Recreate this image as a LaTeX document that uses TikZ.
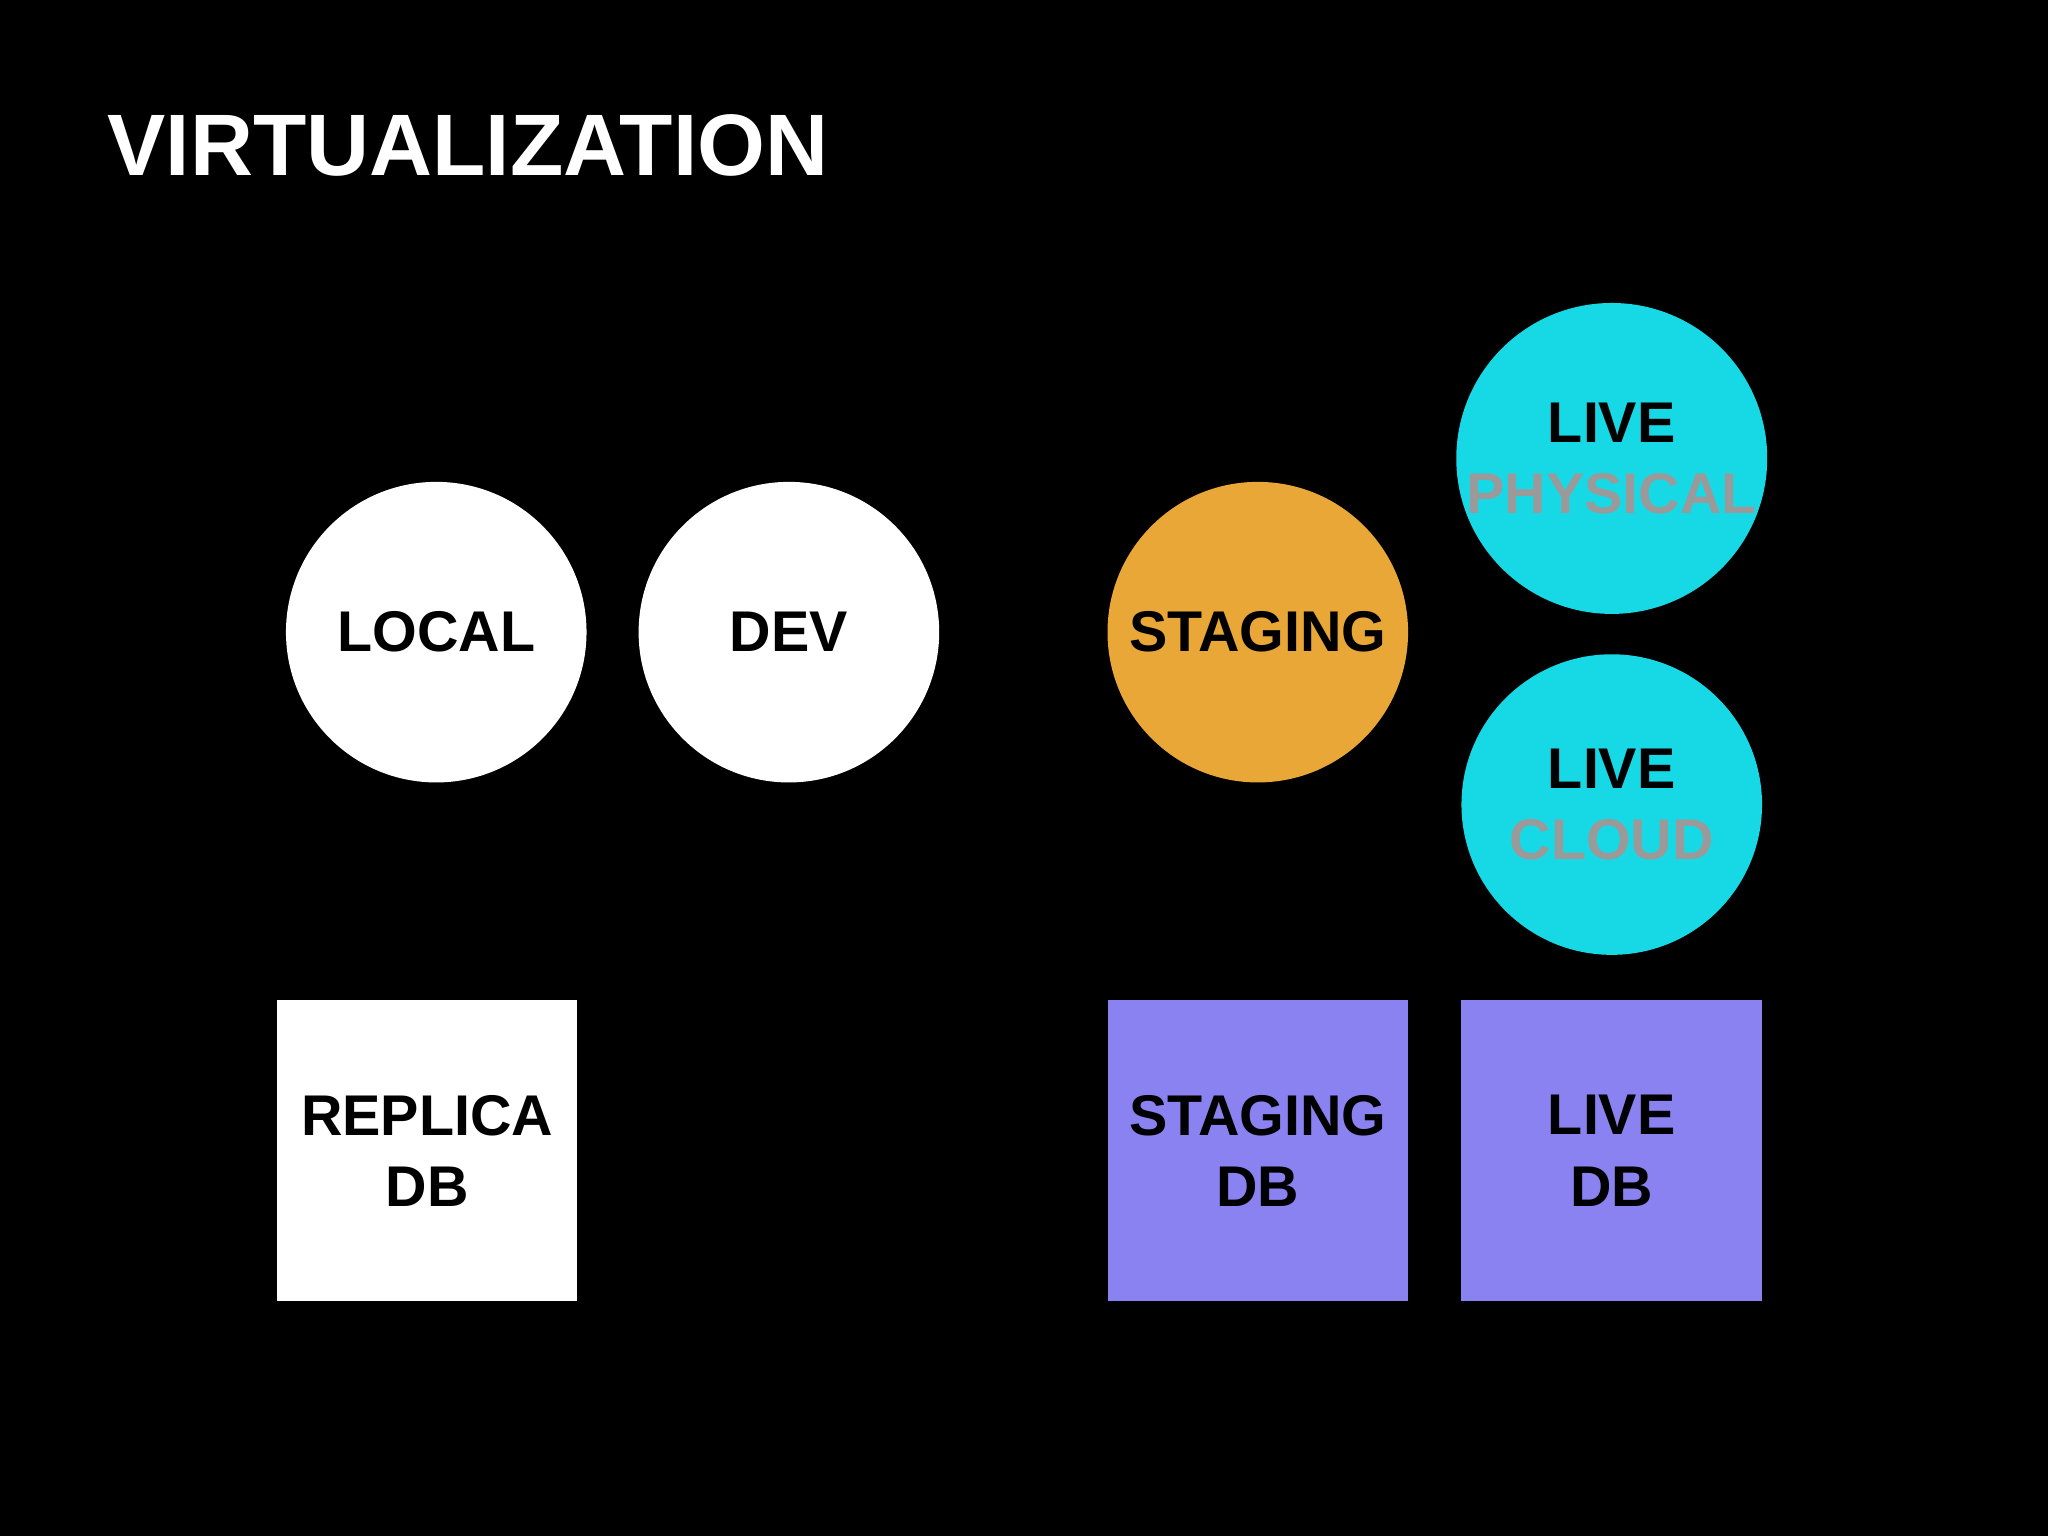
\documentclass[tikz,border=0pt]{standalone}
\usepackage{fontspec}
\setmainfont{Liberation Sans}
\definecolor{stagecol}{HTML}{E8A736}
\definecolor{livecol}{HTML}{17D9E6}
\definecolor{dbcol}{HTML}{8A82F0}
\definecolor{subcol}{HTML}{9A9A9A}
\tikzset{
  env/.style={circle, minimum size=2.3cm, inner sep=0pt, align=center,
    font=\fontsize{12.5}{15.5}\selectfont\bfseries},
  db/.style={rectangle, minimum size=2.3cm, inner sep=0pt, align=center,
    font=\fontsize{12.5}{15.5}\selectfont\bfseries}
}
\begin{document}
\begin{tikzpicture}[x=0.01cm, y=-0.01cm]
  \fill[black] (0,0) rectangle (1568,1176);
  \node[anchor=base west, white, font=\fontsize{19}{22}\selectfont\bfseries] (title) at (70,134) {VIRTUALIZATION};
  % circles
  \node[env, fill=white] (local) at (334,484) {LOCAL};
  \node[env, fill=white] (dev) at (604,484) {DEV};
  \node[env, fill=stagecol] (staging) at (963,484) {STAGING};
  \node[env, fill=livecol] (livephys) at (1234,351) {LIVE\\\textcolor{subcol}{PHYSICAL}};
  \node[env, fill=livecol] (livecloud) at (1234,616) {LIVE\\\textcolor{subcol}{CLOUD}};
  % databases
  \node[db, fill=white] (replicadb) at (327,881) {REPLICA\\DB};
  \node[db, fill=dbcol] (stagingdb) at (963,881) {STAGING\\DB};
  \node[db, fill=dbcol] (livedb) at (1234,881) {LIVE\\DB};
\end{tikzpicture}
\end{document}
